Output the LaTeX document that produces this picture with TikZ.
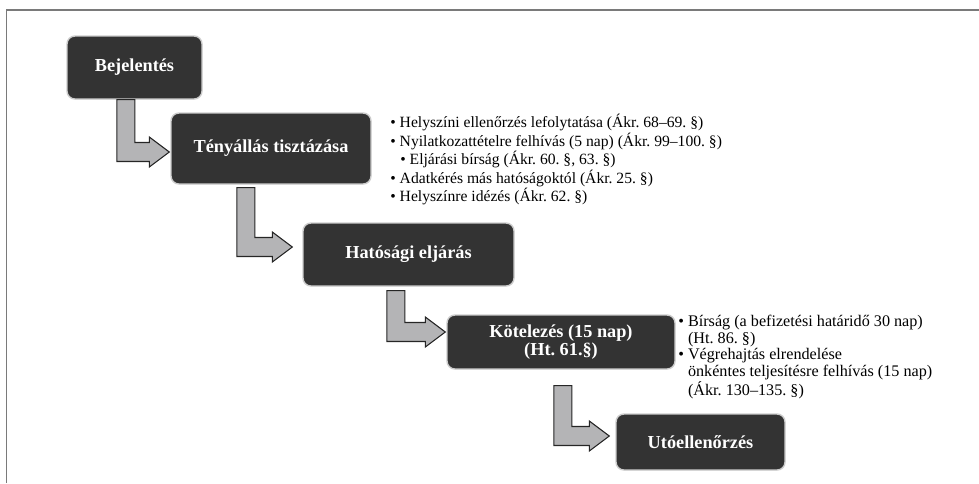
\documentclass[tikz,border=0pt]{standalone}
\usepackage{fontspec}
\setmainfont{Liberation Serif}
\usepackage{xcolor}
\usetikzlibrary{calc}
\frenchspacing

\definecolor{boxdark}{HTML}{333333}
\definecolor{arrgray}{HTML}{B4B4B6}
\definecolor{framegray}{HTML}{7A7A7A}

\begin{document}
\begin{tikzpicture}[
  stepbox/.style={rectangle, rounded corners=4.5pt, draw=gray!40, line width=0.8pt,
                  fill=boxdark, text=white, align=center, inner sep=0pt,
                  font=\fontsize{10.4}{10.6}\selectfont\bfseries},
  blockarr/.style={draw=black!85, line width=0.6pt, fill=arrgray, line join=miter},
  notes/.style={anchor=north west, inner sep=0pt, align=left}
]
\useasboundingbox (0,0) rectangle (19.58,-9.66);

% ---- frame ----
\draw[framegray, line width=0.9pt] (0.13,-9.66) -- (0.13,-0.2) -- (19.58,-0.2);

% ---- steps ----
\node[stepbox, minimum width=2.7cm,  minimum height=1.26cm] (bej)  at (2.69,-1.35)  {Bejelentés};
\node[stepbox, minimum width=4.0cm,  minimum height=1.42cm] (teny) at (5.42,-2.97)  {Tényállás tisztázása};
\node[stepbox, minimum width=4.22cm, minimum height=1.26cm] (hat)  at (8.17,-5.09)  {Hatósági eljárás};
\node[stepbox, minimum width=4.56cm, minimum height=1.08cm] (kot)  at (11.22,-6.84) {Kötelezés (15 nap)\\(Ht. 61.§)};
\node[stepbox, minimum width=3.38cm, minimum height=1.12cm] (uto)  at (14.01,-8.84) {Utóellenőrzés};

% ---- L-shaped block arrows ----
\foreach \src/\dst/\sx/\gap/\ty/\tg in {bej/teny/1.19/0/-0.07/0.02, teny/hat/1.51/0.06/0.15/0.2,
                                        hat/kot/1.87/0.08/0.2/0.02, kot/uto/2.33/0.32/0.12/0.12} {
  \draw[blockarr] let \p1=($(\src.south west)+(\sx,-\gap)$), \p2=($(\dst.west)+(-\tg,\ty)$) in
    (\x1-0.18cm,\y1) -- (\x1-0.18cm,\y2-0.19cm) -- (\x2-0.4cm,\y2-0.19cm) -- (\x2-0.4cm,\y2-0.3cm)
    -- (\x2,\y2) -- (\x2-0.4cm,\y2+0.3cm) -- (\x2-0.4cm,\y2+0.19cm) -- (\x1+0.18cm,\y2+0.19cm)
    -- (\x1+0.18cm,\y1) -- cycle;
}

% ---- notes ----
\node[notes, font=\fontsize{8.9}{10.5}\selectfont] (tenynotes) at (7.80,-2.28) {%
  \textbullet\ Helyszíni ellenőrzés lefolytatása (Ákr. 68–69. §)\\
  \textbullet\ Nyilatkozattételre felhívás (5 nap) (Ákr. 99–100. §)\\
  \hspace{0.2cm}\textbullet\ Eljárási bírság (Ákr. 60. §, 63. §)\\
  \textbullet\ Adatkérés más hatóságoktól (Ákr. 25. §)\\
  \textbullet\ Helyszínre idézés (Ákr. 62. §)};
\node[notes, font=\fontsize{9.2}{8.3}\selectfont] (kotnotes) at (13.56,-6.30) {%
  \textbullet\ Bírság (a befizetési határidő 30 nap)\\
  \phantom{\textbullet\ }(Ht. 86. §)\\
  \textbullet\ Végrehajtás elrendelése\\
  \phantom{\textbullet\ }önkéntes teljesítésre felhívás (15 nap)\\
  \phantom{\textbullet\ }(Ákr. 130–135. §)};

\end{tikzpicture}
\end{document}
